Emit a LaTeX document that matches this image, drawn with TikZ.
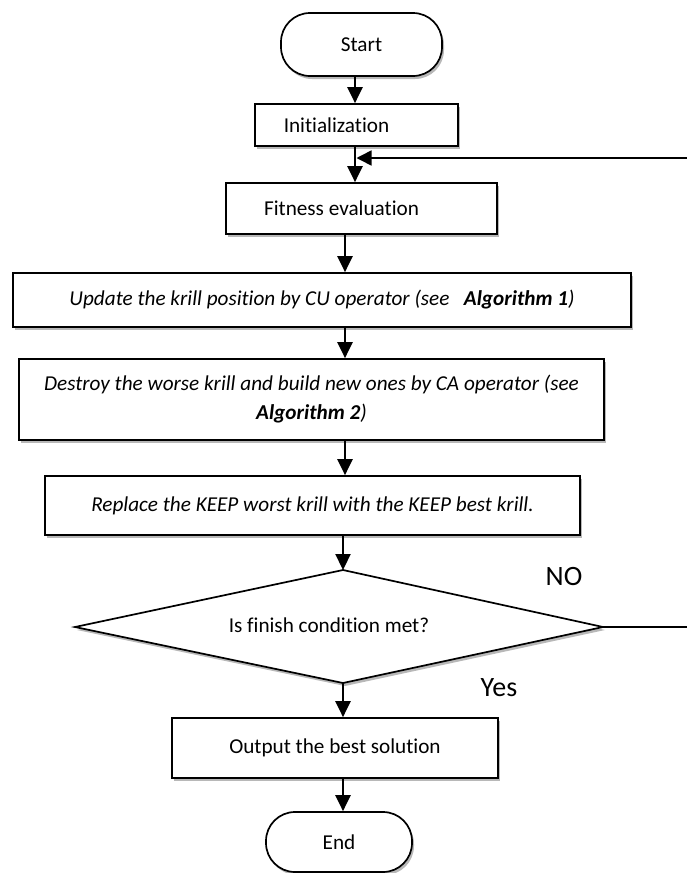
\documentclass[tikz,border=0pt]{standalone}
\usepackage{fontspec}
\setmainfont{Carlito}[Ligatures=NoCommon]
\usetikzlibrary{arrows.meta,shadows}
\begin{document}
\begin{tikzpicture}[x=1pt,y=-1pt,
  every node/.style={inner sep=0pt, font=\fontsize{21.2}{29}\selectfont},
  shd/.style={drop shadow={shadow xshift=2pt,shadow yshift=-3pt,opacity=0.28,fill=black}},
  box/.style={draw, line width=1.7pt, fill=white, shd, align=center},
  term/.style={box, rounded corners=29pt},
  itf/.style={font=\fontsize{21.2}{29}\selectfont\itshape},
  arr/.style={line width=2.2pt, -{Triangle[length=16pt,width=15pt]}},
  lbl/.style={font=\fontsize{28}{32}\selectfont}]
\useasboundingbox (0,0) rectangle (687,873);
% nodes
\node[term, minimum width=161pt, minimum height=63pt] (start) at (361.5,44.5) {Start};
\node[box, minimum width=203pt, minimum height=42pt,
      label={[xshift=-20pt]center:Initialization}] (init) at (356.5,125) {};
\node[box, minimum width=271pt, minimum height=51pt,
      label={[xshift=-20pt]center:Fitness evaluation}] (fit) at (361.5,208.5) {};
\node[box, itf, minimum width=618pt, minimum height=54pt] (upd) at (322,300) {Update the krill position by CU operator (see\ \ \ \textbf{Algorithm 1})};
\node[box, itf, minimum width=585pt, minimum height=81pt] (des) at (311.5,399.5) {Destroy the worse krill and build new ones by CA operator (see\\ \textbf{Algorithm 2})};
\node[box, itf, minimum width=535pt, minimum height=59pt] (rep) at (312.5,505.5) {Replace the KEEP worst krill with the KEEP best krill.};
\coordinate (dT) at (343,570);
\coordinate (dL) at (75,627);
\coordinate (dR) at (603,627);
\coordinate (dB) at (343,683);
\path[draw, line width=1.7pt, fill=white, shd] (dT) -- (dR) -- (dB) -- (dL) -- cycle;
\node (dec) at (329,625) {Is finish condition met?};
\node[box, minimum width=326pt, minimum height=60pt] (out) at (335,748) {Output the best solution};
\node[term, minimum width=146pt, minimum height=60pt] (end) at (339,842) {End};
\node[lbl] (no) at (564,577) {NO};
\node[lbl] (yes) at (499,688) {Yes};
% columns
\coordinate (c1) at (355,0);
\coordinate (c2) at (345,0);
\coordinate (c3) at (343,0);
\coordinate (cr) at (692,0);
\coordinate (lp) at (356.5,158);
% connectors
\draw[arr] (start.south -| c1) -- (init.north -| c1);
\draw[arr] (init.south -| c1) -- (fit.north -| c1);
\draw[arr] (fit.south -| c2) -- (upd.north -| c2);
\draw[arr] (upd.south -| c2) -- (des.north -| c2);
\draw[arr] (des.south -| c2) -- (rep.north -| c2);
\draw[arr] (rep.south -| c3) -- (dT);
\draw[arr] (dB) -- (out.north -| c3);
\draw[arr] (out.south -| c3) -- (end.north -| c3);
\draw[line width=1.6pt, -{Triangle[length=15pt,width=15pt]}] (dR) -- (dR -| cr) -- (cr |- lp) -- (lp);
\end{tikzpicture}
\end{document}
